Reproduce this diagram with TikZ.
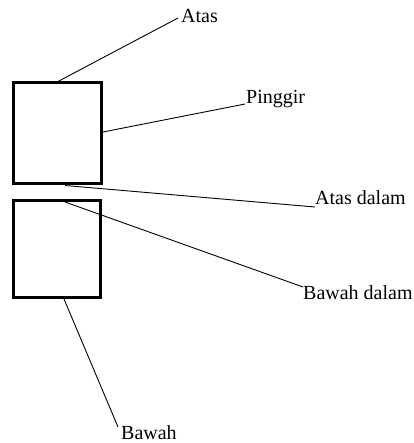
\documentclass[tikz,border=0pt]{standalone}
\usepackage{fontspec}
\setmainfont{Liberation Serif}
\begin{document}
\begin{tikzpicture}[x=1pt,y=-1pt,
  boxst/.style={draw,line width=3pt,rectangle,inner sep=0pt},
  lbl/.style={anchor=base west,inner sep=0pt,font=\fontsize{20}{24}\selectfont},
  conn/.style={line width=0.9pt}]
\useasboundingbox (0,0) rectangle (413,443);
\node[boxst,minimum width=88pt,minimum height=101pt] (topbox) at (57.4,133) {};
\node[boxst,minimum width=87pt,minimum height=96.5pt] (botbox) at (56.5,249) {};
\node[lbl] (atas) at (181,23) {Atas};
\node[lbl] (pinggir) at (246,103.5) {Pinggir};
\node[lbl] (atasdalam) at (315,204.5) {Atas dalam};
\node[lbl] (bawahdalam) at (303,299) {Bawah dalam};
\node[lbl] (bawah) at (121,439) {Bawah};
\coordinate (a1) at (57,82);
\coordinate (a2) at (178,18);
\coordinate (p1) at (103,132);
\coordinate (p2) at (245,104);
\coordinate (ad1) at (65,185.5);
\coordinate (ad2) at (315,207);
\coordinate (bd1) at (65,202);
\coordinate (bd2) at (303,287);
\coordinate (b1) at (64,299);
\coordinate (b2) at (118,427);
\draw[conn] (a1) -- (a2);
\draw[conn] (p1) -- (p2);
\draw[conn] (ad1) -- (ad2);
\draw[conn] (bd1) -- (bd2);
\draw[conn] (b1) -- (b2);
\end{tikzpicture}
\end{document}
